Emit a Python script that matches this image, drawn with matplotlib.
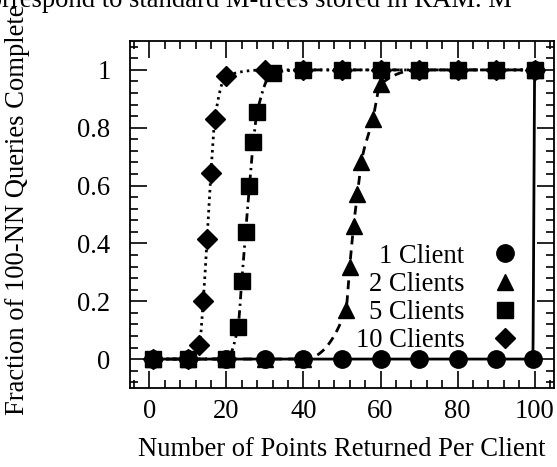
import numpy as np
import matplotlib
matplotlib.use("Agg")
import matplotlib.pyplot as plt
from matplotlib.lines import Line2D
from matplotlib.ticker import MultipleLocator

# Fraction of 100-NN queries complete vs. number of points returned per client
x_1client = [1, 10, 20, 30, 40, 50, 60, 70, 80, 90, 99.5, 100]
y_1client = [0, 0, 0, 0, 0, 0, 0, 0, 0, 0, 0, 1]

x_2clients = [1, 10, 20, 30, 40, 51, 52, 53, 54, 55, 58, 60, 70, 80, 90, 100]
y_2clients = [0, 0, 0, 0, 0, 0.17, 0.32, 0.46, 0.57, 0.68, 0.83, 0.95, 1, 1, 1, 1]

x_5clients = [1, 10, 20, 23, 24, 25, 26, 27, 28, 32, 40, 50, 60, 70, 80, 90, 100]
y_5clients = [0, 0, 0, 0.11, 0.27, 0.44, 0.60, 0.75, 0.855, 0.99, 1, 1, 1, 1, 1, 1, 1]

x_10clients = [1, 10, 13, 14, 15, 16, 17, 20, 30, 40, 50, 60, 70, 80, 90, 100]
y_10clients = [0, 0, 0.05, 0.20, 0.415, 0.645, 0.83, 0.98, 1, 1, 1, 1, 1, 1, 1, 1]

labels = ["1 Client", "2 Clients", "5 Clients", "10 Clients"]
x_ticks = [0, 20, 40, 60, 80, 100]
y_ticks = [0, 0.2, 0.4, 0.6, 0.8, 1]
y_tick_labels = ["0", "0.2", "0.4", "0.6", "0.8", "1"]


def pchip(x, y, n=40):
    """Monotone cubic (Fritsch-Carlson) curve through the given points."""
    x = np.asarray(x, float)
    y = np.asarray(y, float)
    h = np.diff(x)
    d = np.diff(y) / h
    m = np.zeros_like(y)
    for k in range(1, len(x) - 1):
        if d[k - 1] * d[k] > 0:
            w1 = 2 * h[k] + h[k - 1]
            w2 = h[k] + 2 * h[k - 1]
            m[k] = (w1 + w2) / (w1 / d[k - 1] + w2 / d[k])
    m[0] = d[0] if d[0] * (d[1] if len(d) > 1 else d[0]) > 0 else 0
    m[-1] = d[-1] if len(d) > 1 and d[-1] * d[-2] > 0 else (0 if len(d) > 1 else d[-1])
    xs, ys = [], []
    for k in range(len(h)):
        t = np.linspace(0, 1, n, endpoint=(k == len(h) - 1))
        h00 = 2 * t**3 - 3 * t**2 + 1
        h10 = t**3 - 2 * t**2 + t
        h01 = -2 * t**3 + 3 * t**2
        h11 = t**3 - t**2
        xs.append(x[k] + t * h[k])
        ys.append(h00 * y[k] + h10 * h[k] * m[k] + h01 * y[k + 1] + h11 * h[k] * m[k + 1])
    return np.concatenate(xs), np.concatenate(ys)


plt.rcParams["font.family"] = ["Liberation Serif", "DejaVu Serif"]
plt.rcParams["font.size"] = 19.2

fig = plt.figure(figsize=(5.57, 4.67), dpi=100)
ax = fig.add_axes([0.2334, 0.1692, 0.7612, 0.7430])

series = [
    (x_1client, y_1client, "o", 12.5, "-", 3),
    (x_2clients, y_2clients, "^", 12, (0, (3.2, 2.2)), 1),
    (x_5clients, y_5clients, "s", 12, (0, (3.0, 1.6, 0.8, 1.6)), 4),
    (x_10clients, y_10clients, "D", 10.5, (0, (0.9, 1.5)), 0.5),
]

handles = []
for (xs, ys, mk, ms, ls, z), lab in zip(series, labels):
    cx, cy = pchip(xs, ys)
    ax.plot(cx, cy, color="black", linestyle=ls, linewidth=2.0, zorder=z,
            dash_capstyle="butt")
    ax.plot(xs, ys, linestyle="None", marker=mk, markersize=ms,
            color="black", zorder=z + 0.1)
    handles.append(Line2D([], [], linestyle="None", marker=mk, markersize=ms,
                          color="black", label=lab))

ax.set_xlim(-5, 105)
ax.set_ylim(-0.1, 1.1)
ax.set_xticks(x_ticks)
ax.set_yticks(y_ticks)
ax.set_yticklabels(y_tick_labels)
ax.xaxis.set_minor_locator(MultipleLocator(4))
ax.yaxis.set_minor_locator(MultipleLocator(0.04))
ax.tick_params(which="both", direction="in", top=True, right=True, width=1.2)
ax.tick_params(which="major", length=12)
ax.tick_params(which="minor", length=6)
ax.tick_params(axis="y", which="major", pad=14)
ax.tick_params(axis="x", which="major", pad=8)
for sp in ax.spines.values():
    sp.set_linewidth(1.3)

ax.set_xlabel("Number of Points Returned Per Client", labelpad=9)
fig.text(18 / 557, 1 - 415 / 467, "Fraction of 100-NN Queries Complete",
         rotation=90, ha="center", va="bottom")
fig.text(-0.042, 1 - 7 / 467, "correspond to standard M-trees stored in RAM. M",
         ha="left", va="baseline")

ax.legend(handles=handles, loc="lower right", bbox_to_anchor=(0.915, 0.10),
          frameon=False, markerfirst=False, handlelength=1.0,
          handletextpad=1.0, labelspacing=0.12, borderpad=0, borderaxespad=0)

fig.savefig("out.png", dpi=100)
